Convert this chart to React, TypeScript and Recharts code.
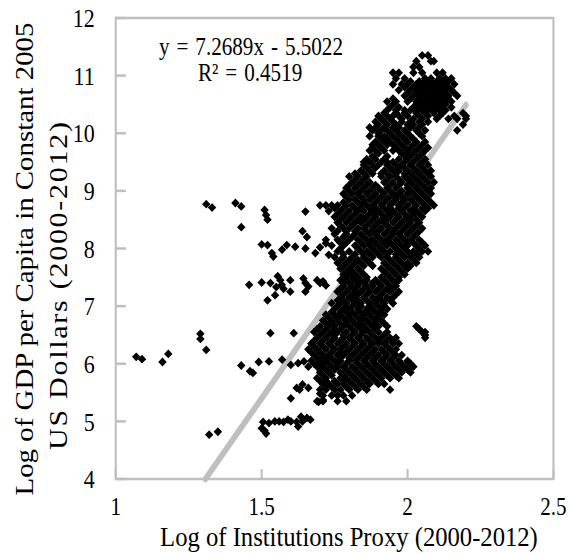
import React from 'react'
import {
  ScatterChart, Scatter, XAxis, YAxis, ReferenceLine, ReferenceArea
} from 'recharts'

// the source picture is squeezed horizontally, so draw wide and squeeze back
const W = 676
const H = 553
const SQUEEZE = 0.845

const xTicks = [1, 1.5, 2, 2.5]
const yTicks = [4, 5, 6, 7, 8, 9, 10, 11, 12]

// trendline from the figure
const SLOPE = 7.2689
const INTERCEPT = -5.5022
const TREND_X = [(4 - INTERCEPT) / SLOPE, 2.2]

// scattered points away from the main band [x, y]
const outliers: [number, number][] = [
  [1.07, 6.12], [1.09, 6.08], [1.16, 6.03], [1.18, 6.17],
  [1.29, 6.52], [1.29, 6.43], [1.31, 6.24],
  [1.31, 8.77], [1.33, 8.71], [1.41, 8.79], [1.43, 8.73], [1.43, 8.37],
  [1.32, 4.77], [1.35, 4.82],
  [1.51, 8.67], [1.515, 8.58], [1.52, 8.5], [1.65, 8.64],
  [1.5, 8.07], [1.52, 8.06], [1.535, 7.92], [1.54, 7.86], [1.57, 7.98], [1.586, 8.06],
  [1.615, 8.03], [1.64, 8.3], [1.655, 8.2], [1.65, 8.0], [1.684, 7.92], [1.70, 8.02],
  [1.72, 8.09], [1.73, 7.89],
  [1.457, 7.37], [1.50, 7.41], [1.53, 7.40], [1.555, 7.52], [1.564, 7.45], [1.569, 7.37],
  [1.55, 7.33], [1.575, 7.30], [1.546, 7.19], [1.52, 7.1], [1.598, 7.45], [1.598, 7.25],
  [1.643, 7.48], [1.65, 7.4], [1.66, 7.34], [1.65, 7.25], [1.69, 7.45], [1.70, 7.4],
  [1.71, 7.43], [1.72, 7.36],
  [1.53, 6.53], [1.61, 6.53],
  [1.43, 5.97], [1.46, 5.87], [1.47, 5.84], [1.49, 6.03], [1.525, 6.04], [1.57, 6.07],
  [1.6, 5.98], [1.625, 6.01], [1.645, 6.04], [1.66, 5.95], [1.69, 5.98], [1.705, 6.07],
  [1.60, 5.40], [1.62, 5.58], [1.63, 5.55], [1.64, 5.64], [1.66, 5.58], [1.695, 5.34],
  [1.71, 5.37], [1.70, 5.48],
  [1.50, 4.88], [1.505, 4.99], [1.515, 4.79], [1.51, 4.84], [1.525, 4.97], [1.545, 5.0],
  [1.56, 5.0], [1.575, 4.99], [1.59, 5.03], [1.60, 5.0], [1.62, 4.99], [1.625, 4.91],
  [1.635, 5.08], [1.64, 5.0], [1.655, 5.06], [1.667, 5.03],
]

// main band, read row by row: [y, x values]
const bandRows: [number, number[]][] = [
  [11.35, [2.05, 2.07]],
  [11.25, [2.03, 2.08, 2.09]],
  [11.15, [2.02, 2.04]],
  [11.05, [1.95, 1.97, 2.02, 2.05, 2.1, 2.12]],
  [10.95, [1.96, 1.99, 2.06, 2.08, 2.11, 2.13, 2.15]],
  [10.85, [1.95, 1.98, 2.0, 2.03, 2.05, 2.07, 2.09, 2.11, 2.13, 2.16]],
  [10.75, [1.97, 2.01, 2.03, 2.05, 2.07, 2.09, 2.11, 2.13, 2.15]],
  [10.65, [1.99, 2.02, 2.04, 2.06, 2.08, 2.10, 2.12, 2.14, 2.17]],
  [10.55, [1.93, 1.96, 2.0, 2.03, 2.05, 2.07, 2.09, 2.11, 2.13, 2.15]],
  [10.45, [1.94, 1.97, 2.02, 2.04, 2.06, 2.08, 2.10, 2.12, 2.15]],
  [10.35, [1.92, 1.96, 1.99, 2.03, 2.06, 2.09, 2.12, 2.19]],
  [10.25, [1.91, 1.94, 1.98, 2.02, 2.05, 2.1, 2.14, 2.17, 2.2]],
  [10.15, [1.9, 1.93, 1.96, 2.0, 2.02, 2.05, 2.19]],
  [10.05, [1.88, 1.91, 1.93, 1.96, 1.99, 2.03, 2.06, 2.17]],
  [9.95, [1.87, 1.9, 1.92, 1.95, 1.98, 2.01, 2.05]],
  [9.85, [1.89, 1.92, 1.94, 1.97, 2.0, 2.03, 2.06]],
  [9.75, [1.88, 1.91, 1.96, 1.99, 2.01, 2.04, 2.07]],
  [9.65, [1.9, 1.98, 2.0, 2.02, 2.05]],
  [9.55, [1.86, 1.89, 1.92, 1.97, 2.0, 2.03, 2.06]],
  [9.45, [1.85, 1.88, 1.9, 1.93, 1.96, 1.98, 2.01, 2.04, 2.07]],
  [9.35, [1.84, 1.87, 1.92, 1.95, 1.97, 2.0, 2.03, 2.06, 2.08]],
  [9.25, [1.80, 1.83, 1.86, 1.91, 1.94, 1.96, 1.99, 2.02, 2.05, 2.08]],
  [9.15, [1.81, 1.84, 1.87, 1.92, 1.95, 1.98, 2.01, 2.04, 2.07, 2.09]],
  [9.05, [1.79, 1.82, 1.85, 1.88, 1.90, 1.93, 1.96, 2.0, 2.03, 2.06, 2.08]],
  [8.95, [1.78, 1.81, 1.83, 1.86, 1.89, 1.92, 1.95, 1.97, 2.0, 2.02, 2.05, 2.08]],
  [8.85, [1.80, 1.82, 1.85, 1.87, 1.90, 1.93, 1.96, 1.99, 2.01, 2.04, 2.07]],
  [8.75, [1.70, 1.72, 1.74, 1.76, 1.79, 1.81, 1.84, 1.86, 1.88, 1.91, 1.94, 1.97, 2.0, 2.03, 2.06, 2.09]],
  [8.65, [1.73, 1.77, 1.80, 1.83, 1.85, 1.88, 1.90, 1.93, 1.95, 1.98, 2.01, 2.03, 2.06]],
  [8.55, [1.75, 1.78, 1.81, 1.84, 1.86, 1.89, 1.92, 1.94, 1.97, 2.0, 2.02, 2.05]],
  [8.45, [1.76, 1.79, 1.82, 1.84, 1.87, 1.90, 1.92, 1.95, 1.98, 2.01, 2.04]],
  [8.35, [1.74, 1.78, 1.80, 1.83, 1.85, 1.88, 1.91, 1.94, 1.96, 1.99, 2.02, 2.05]],
  [8.25, [1.75, 1.79, 1.82, 1.84, 1.87, 1.89, 1.92, 1.95, 1.97, 2.0, 2.03]],
  [8.15, [1.72, 1.76, 1.80, 1.83, 1.86, 1.88, 1.91, 1.93, 1.96, 1.99, 2.01, 2.04]],
  [8.05, [1.74, 1.78, 1.82, 1.85, 1.87, 1.90, 1.93, 1.95, 1.98, 2.0, 2.03, 2.06]],
  [7.95, [1.76, 1.80, 1.84, 1.86, 1.89, 1.92, 1.94, 1.97, 2.0, 2.02, 2.05, 2.07]],
  [7.85, [1.75, 1.78, 1.81, 1.85, 1.88, 1.91, 1.93, 1.96, 1.99, 2.01, 2.04]],
  [7.75, [1.76, 1.79, 1.82, 1.84, 1.87, 1.92, 1.95, 1.98, 2.0, 2.03]],
  [7.65, [1.77, 1.80, 1.83, 1.91, 1.94, 1.97, 2.0]],
  [7.55, [1.78, 1.80, 1.82, 1.85, 1.93, 1.96, 1.99]],
  [7.45, [1.77, 1.79, 1.82, 1.84, 1.86, 1.89, 1.92, 1.95, 1.97]],
  [7.35, [1.78, 1.81, 1.83, 1.86, 1.88, 1.91, 1.94, 1.96]],
  [7.25, [1.76, 1.79, 1.82, 1.84, 1.87, 1.89, 1.92, 1.94, 1.97]],
  [7.15, [1.77, 1.80, 1.82, 1.85, 1.88, 1.90, 1.93, 1.95]],
  [7.05, [1.74, 1.77, 1.79, 1.82, 1.84, 1.87, 1.89, 1.92, 1.95]],
  [6.95, [1.75, 1.78, 1.80, 1.83, 1.86, 1.88, 1.91, 1.93]],
  [6.85, [1.72, 1.75, 1.77, 1.80, 1.82, 1.85, 1.87, 1.90, 1.92]],
  [6.75, [1.71, 1.74, 1.76, 1.79, 1.81, 1.84, 1.86, 1.89, 1.91]],
  [6.65, [1.70, 1.73, 1.75, 1.78, 1.80, 1.83, 1.85, 1.88, 1.90, 1.93, 2.03]],
  [6.55, [1.68, 1.71, 1.74, 1.76, 1.79, 1.82, 1.85, 1.87, 1.90, 1.93, 2.05, 2.06]],
  [6.45, [1.69, 1.72, 1.75, 1.78, 1.80, 1.83, 1.86, 1.89, 1.91, 1.94, 1.96, 2.06]],
  [6.35, [1.67, 1.70, 1.73, 1.76, 1.79, 1.82, 1.85, 1.88, 1.90, 1.92, 1.95, 1.97]],
  [6.25, [1.66, 1.69, 1.72, 1.75, 1.77, 1.80, 1.83, 1.86, 1.89, 1.91, 1.94, 1.96]],
  [6.15, [1.68, 1.71, 1.73, 1.76, 1.78, 1.81, 1.84, 1.87, 1.90, 1.93, 1.96, 1.98]],
  [6.05, [1.67, 1.70, 1.72, 1.75, 1.77, 1.80, 1.82, 1.85, 1.88, 1.91, 1.94, 1.97, 2.0]],
  [5.95, [1.69, 1.71, 1.74, 1.76, 1.78, 1.81, 1.84, 1.87, 1.90, 1.93, 1.96, 1.99, 2.02]],
  [5.85, [1.70, 1.73, 1.77, 1.80, 1.83, 1.86, 1.89, 1.92, 1.95, 1.98, 2.01]],
  [5.75, [1.69, 1.72, 1.77, 1.79, 1.82, 1.85, 1.88, 1.91, 1.94, 1.97]],
  [5.65, [1.71, 1.73, 1.76, 1.78, 1.81, 1.84, 1.87, 1.9, 1.92]],
  [5.55, [1.70, 1.72, 1.75, 1.77, 1.80, 1.83, 1.86, 1.94]],
  [5.45, [1.71, 1.74, 1.76, 1.78, 1.81]],
  [5.35, [1.69, 1.71, 1.76, 1.79]],
]

// denser in-between rows where the band is solid black
const coreRows: [number, number[]][] = [
  [10.9, [2.01, 2.04, 2.06, 2.08, 2.10, 2.12, 2.14]],
  [10.8, [1.99, 2.02, 2.04, 2.06, 2.08, 2.10, 2.12, 2.14]],
  [10.7, [2.0, 2.03, 2.05, 2.07, 2.09, 2.11, 2.13, 2.16]],
  [10.6, [1.95, 2.01, 2.04, 2.06, 2.08, 2.10, 2.12, 2.14]],
  [10.5, [1.95, 2.03, 2.05, 2.07, 2.09, 2.11, 2.13]],
  [10.4, [1.93, 1.96, 1.99, 2.01, 2.03, 2.05, 2.07, 2.09, 2.11, 2.13]],
  [10.3, [1.90, 1.93, 1.95, 1.97, 2.0, 2.04, 2.07, 2.11, 2.16, 2.2]],
  [10.2, [1.89, 1.92, 1.95, 1.98, 2.01, 2.04, 2.07]],
  [10.1, [1.87, 1.89, 1.92, 1.95, 1.97, 2.01, 2.04]],
  [10.0, [1.90, 1.94, 1.97, 2.0, 2.04]],
  [9.9, [1.91, 1.93, 1.96, 1.99, 2.02]],
  [9.8, [1.88, 1.90, 1.93, 1.95, 1.98, 2.02, 2.05]],
  [9.7, [1.87, 1.89, 1.92, 1.95, 1.97, 2.0, 2.03, 2.06]],
  [9.6, [1.88, 1.93, 1.99, 2.01, 2.04]],
  [9.5, [1.85, 1.87, 1.91, 1.93, 1.95, 1.99, 2.02, 2.05]],
  [9.4, [1.86, 1.89, 1.94, 1.97, 1.99, 2.02, 2.05]],
  [9.3, [1.82, 1.85, 1.88, 1.91, 1.93, 1.96, 1.99, 2.01, 2.04, 2.07]],
  [9.2, [1.82, 1.85, 1.93, 1.97, 2.0, 2.03, 2.06]],
  [9.1, [1.80, 1.83, 1.86, 1.89, 1.94, 1.97, 2.0, 2.02, 2.05]],
  [9.0, [1.80, 1.84, 1.87, 1.91, 1.94, 1.98, 2.01, 2.04, 2.07]],
  [8.9, [1.79, 1.84, 1.88, 1.91, 1.94, 1.96, 1.98, 2.03, 2.06]],
  [8.8, [1.78, 1.83, 1.85, 1.89, 1.92, 1.95, 1.98, 2.02, 2.05, 2.08]],
  [8.7, [1.75, 1.78, 1.82, 1.84, 1.87, 1.89, 1.92, 1.94, 1.97, 1.99, 2.02, 2.05, 2.07]],
  [8.6, [1.76, 1.79, 1.82, 1.87, 1.89, 1.91, 1.94, 1.96, 1.99, 2.02, 2.04]],
  [8.5, [1.77, 1.80, 1.83, 1.85, 1.88, 1.91, 1.93, 1.96, 1.99, 2.01, 2.03]],
  [8.4, [1.77, 1.81, 1.86, 1.89, 1.93, 1.97, 2.0, 2.03]],
  [8.3, [1.76, 1.79, 1.82, 1.86, 1.88, 1.90, 1.93, 1.95, 1.98, 2.01, 2.04]],
  [8.2, [1.78, 1.81, 1.85, 1.90, 1.94, 1.98, 2.02]],
  [8.1, [1.77, 1.79, 1.84, 1.87, 1.89, 1.92, 1.94, 1.97, 2.0, 2.02, 2.05]],
  [8.0, [1.77, 1.83, 1.88, 1.91, 1.96, 1.99, 2.04]],
  [7.9, [1.78, 1.82, 1.85, 1.87, 1.90, 1.93, 1.96, 1.98, 2.01, 2.03]],
  [7.8, [1.77, 1.80, 1.83, 1.86, 1.94, 1.97, 2.02]],
  [7.7, [1.78, 1.81, 1.85, 1.88, 1.93, 1.96, 1.99, 2.01]],
  [7.6, [1.79, 1.81, 1.84, 1.92, 1.95, 1.98]],
  [7.5, [1.79, 1.81, 1.83, 1.86, 1.91, 1.94, 1.97]],
  [7.4, [1.78, 1.80, 1.83, 1.85, 1.88, 1.90, 1.93, 1.96]],
  [7.3, [1.77, 1.80, 1.82, 1.85, 1.87, 1.90, 1.93, 1.95]],
  [7.2, [1.78, 1.81, 1.83, 1.86, 1.91, 1.96]],
  [7.1, [1.76, 1.78, 1.81, 1.83, 1.86, 1.89, 1.91, 1.94]],
  [7.0, [1.76, 1.79, 1.81, 1.84, 1.87, 1.90, 1.92]],
  [6.9, [1.74, 1.77, 1.79, 1.81, 1.84, 1.86, 1.89, 1.91]],
  [6.8, [1.73, 1.76, 1.78, 1.80, 1.83, 1.85, 1.88, 1.90]],
  [6.7, [1.72, 1.74, 1.77, 1.79, 1.82, 1.84, 1.87, 1.89, 1.92]],
  [6.6, [1.69, 1.72, 1.75, 1.77, 1.81, 1.84, 1.86, 1.89, 2.04]],
  [6.5, [1.70, 1.73, 1.75, 1.78, 1.81, 1.84, 1.88, 1.92, 2.06]],
  [6.4, [1.68, 1.71, 1.74, 1.77, 1.81, 1.84, 1.87, 1.90, 1.93, 1.95]],
  [6.3, [1.68, 1.71, 1.74, 1.78, 1.81, 1.84, 1.87, 1.93]],
  [6.2, [1.67, 1.70, 1.74, 1.77, 1.79, 1.82, 1.85, 1.88, 1.92, 1.95]],
  [6.1, [1.69, 1.72, 1.74, 1.77, 1.80, 1.83, 1.86, 1.89, 1.92, 1.95]],
  [6.0, [1.68, 1.71, 1.73, 1.76, 1.79, 1.83, 1.86, 1.89, 1.92, 1.95, 1.98, 2.01]],
  [5.9, [1.70, 1.72, 1.75, 1.79, 1.82, 1.85, 1.88, 1.91, 1.94, 1.97, 2.0]],
  [5.8, [1.71, 1.74, 1.78, 1.81, 1.84, 1.87, 1.90, 1.93, 1.96]],
  [5.7, [1.70, 1.72, 1.75, 1.78, 1.80, 1.83, 1.86, 1.89]],
  [5.6, [1.72, 1.74, 1.79, 1.82, 1.85]],
]

const points = [
  ...outliers,
  ...[...bandRows, ...coreRows].flatMap(([y, xs]) => xs.map(x => [x, y] as [number, number])),
].map(([x, y]) => ({ x, y }))

const FONT = '"Liberation Serif", "Times New Roman", serif'
const AXIS_GRAY = '#bfbfbf'

const Diamond = (p: any) => {
  const { cx, cy } = p
  if (cx == null || cy == null) return <g />
  return (
    <path
      d={`M${cx},${cy - 4.4}L${cx + 5},${cy}L${cx},${cy + 4.4}L${cx - 5},${cy}Z`}
      fill="#000"
    />
  )
}

// titles and the trendline equation
const Titles = () => (
  <g fontFamily={FONT} fill="#000">
    <text x={39} y={259} fontSize={30} textAnchor="middle"
          textLength={473} lengthAdjust="spacingAndGlyphs"
          transform="rotate(-90, 39, 259)">
      Log of GDP per Capita in Constant 2005
    </text>
    <text x={79} y={286} fontSize={30} textAnchor="middle"
          textLength={328} lengthAdjust="spacing"
          transform="rotate(-90, 79, 286)">
      US Dollars (2000-2012)
    </text>
    <text x={413} y={546} fontSize={28} textAnchor="middle"
          textLength={447} lengthAdjust="spacingAndGlyphs">
      Log of Institutions Proxy (2000-2012)
    </text>
    <text x={297} y={55} fontSize={25} textAnchor="middle" wordSpacing={2}>
      y = 7.2689x - 5.5022
    </text>
    <text x={296} y={81} fontSize={25} textAnchor="middle" wordSpacing={2}>
      R² = 0.4519
    </text>
  </g>
)

export default function App() {
  return (
    <div style={{ position: 'absolute', left: 0, top: 0, width: 571, height: 553, overflow: 'hidden', background: '#fff' }}>
      <div style={{ width: W, height: H, transform: `scaleX(${SQUEEZE})`, transformOrigin: '0 0' }}>
        <ScatterChart width={W} height={H} margin={{ top: 18, right: 21, left: 0, bottom: 0 }}>
          <XAxis
            type="number" dataKey="x" domain={[1, 2.5]} ticks={xTicks} interval={0}
            height={74} axisLine={false}
            tickSize={-10} tickMargin={28}
            tickLine={{ stroke: AXIS_GRAY, strokeWidth: 2.5 }}
            tick={{ fill: '#000', fontSize: 25, fontFamily: FONT }}
          />
          <YAxis
            type="number" dataKey="y" domain={[4, 12]} ticks={yTicks} interval={0}
            width={137} axisLine={false}
            tickSize={-12} tickMargin={37}
            tickLine={{ stroke: AXIS_GRAY, strokeWidth: 2.5 }}
            tick={{ fill: '#000', fontSize: 26, fontFamily: FONT }}
            label={{ content: () => <Titles /> }}
          />
          <ReferenceArea x1={1} x2={2.5} y1={4} y2={12} fill="none" stroke={AXIS_GRAY} strokeWidth={2.5} />
          <Scatter data={points} shape={<Diamond />} isAnimationActive={false} />
          <ReferenceLine
            segment={[
              { x: TREND_X[0], y: SLOPE * TREND_X[0] + INTERCEPT },
              { x: TREND_X[1], y: SLOPE * TREND_X[1] + INTERCEPT },
            ]}
            stroke={AXIS_GRAY} strokeWidth={6.5} strokeLinecap="round"
          />
        </ScatterChart>
      </div>
    </div>
  )
}
